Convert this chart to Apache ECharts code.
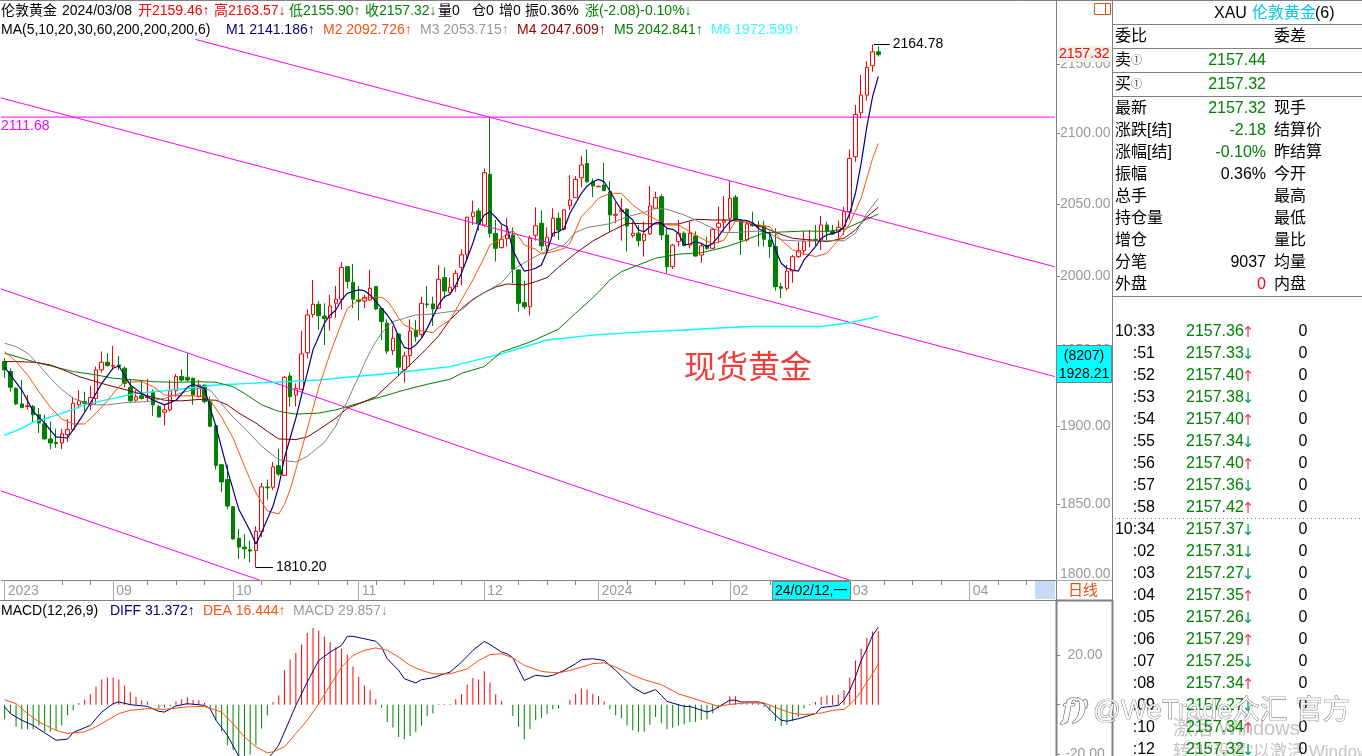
<!DOCTYPE html>
<html><head><meta charset="utf-8">
<style>html,body{margin:0;padding:0;background:#fff}#c{width:1362px;height:756px}</style>
<script src="https://cdn.jsdelivr.net/npm/echarts@6/dist/echarts.min.js"></script>
</head><body><div id="c"></div>
<script>
// [open, close, low, high], daily bars
const ohlc=[
[1942.3,1936.8,1931.3,1944.6],[1935.7,1925.3,1922.4,1937.9],[1924.6,1914.4,1913.7,1925.3],[1914.4,1912,1911.6,1930.1],[1912.7,1913.1,1910.5,1920.2],
[1912.7,1907.3,1901.9,1913.8],[1907.3,1901.9,1895.5,1911.6],[1901.5,1891.6,1891.2,1907.3],[1891.6,1889,1885.1,1903],[1889.4,1888.6,1885.9,1898.1],
[1889,1894.9,1885.1,1898.1],[1894.4,1897.6,1889.4,1904.5],[1897.6,1914.8,1896.5,1919.1],[1913.8,1916.4,1911.6,1923.5],[1915.9,1914.8,1909.5,1922.4],
[1913.8,1918.6,1910.5,1926.1],[1918,1936.8,1913.8,1939],[1936.8,1941.9,1935,1949],[1941.9,1939.7,1939,1947.9],[1939.2,1939.7,1937.2,1952.8],
[1940.1,1939,1936.8,1946.1],[1937.9,1927.9,1925.3,1939],[1925.3,1916.4,1915.9,1930.1],[1916.8,1919.1,1915.9,1923.5],[1919.7,1918,1917.3,1929.7],
[1918.6,1919.1,1915.9,1930.8],[1921.9,1913.8,1906.6,1923.9],[1912.7,1905.8,1905.8,1913.8],[1909,1910.5,1900.4,1913.8],[1910.5,1923,1909.5,1930.1],
[1923,1932.4,1919.1,1934.1],[1932.4,1930.1,1929,1937.2],[1931.9,1930.1,1929,1947.9],[1931.3,1920.2,1913.8,1931.7],[1919.1,1926.8,1918.6,1930.1],
[1926.8,1915.9,1914.8,1926.8],[1915.9,1899.8,1899.4,1919.1],[1900.2,1874.6,1871.9,1900.9],[1875,1864,1857.4,1875],[1865.5,1848.7,1846.6,1875],
[1848.3,1828,1827.6,1848.7],[1828.4,1822.9,1815.6,1834.2],[1822.9,1821.8,1815.6,1831.1],[1821.2,1820.4,1813.5,1827],[1820.8,1832.8,1810.2,1835.9],
[1832.6,1860.8,1829,1863.3],[1860.8,1860.2,1852.8,1865.5],[1860.6,1873.6,1858.7,1876.7],[1874.4,1869,1867.6,1885.3],[1868.2,1931.9,1867.6,1932.8],
[1932.8,1919.2,1912.7,1935],[1920.2,1924.6,1912.7,1927.9],[1923.9,1947.4,1923.5,1962.7],[1948.2,1973.5,1944.5,1977.4],[1973.9,1980.7,1971.7,1997.3],
[1980.7,1973,1963.4,1983],[1972.8,1971,1953.4,1981.4],[1971.7,1979.6,1963,1987.1],[1981.4,1984.2,1971.7,1993.2],[1984.2,2005.9,1977.4,2009.6],
[2006.4,1996.2,1991.6,2006.9],[1995.5,1984.2,1978.1,2008.2],[1983.7,1982.6,1969.8,1993.2],[1983,1985.5,1978.1,1987.1],[1983.7,1991.6,1983.2,2004.1],
[1992.8,1977.6,1976.9,1993.2],[1977.8,1969.1,1956.7,1978.1],[1968,1949.3,1947.4,1970.6],[1949.6,1957.8,1946.7,1966.1],[1960.7,1938.6,1933.5,1961.2],
[1936.8,1946.1,1928.4,1948.9],[1946.3,1962.7,1939,1970.6],[1963,1958.9,1955.6,1970.2],[1960.5,1981.4,1958.9,1985.9],[1981,1980.5,1978.1,1993.2],
[1981,1977.6,1966.1,1985.9],[1978.1,1997.8,1977.8,2007.5],[1998.9,1989.8,1984.8,2005.9],[1988.9,1992.3,1988.2,1998.9],[1992.8,2001.8,1989.3,2004.1],
[2005.9,2014.5,1993.6,2018.4],[2014.9,2040.6,2011,2041],[2041,2044.1,2035.2,2052.2],[2045,2035.9,2031.2,2046.9],[2035.2,2072,2034,2074.9],
[2070.8,2029.4,2026.6,2111.68],[2029.4,2019,2009.9,2038.7],[2019.5,2025.3,2019,2035.2],[2025.7,2028.3,2020.2,2039.9],[2028.3,2004.6,1995,2033.6],
[2004.1,1981.4,1975.8,2004.6],[1981.9,1979.1,1977.4,1996.6],[1979.1,2026,1973.1,2027.8],[2028,2034.7,2024.3,2047.6],[2036.4,2020.7,2017.4,2045.2],
[2020.7,2026.7,2016,2033.6],[2027.6,2039.9,2027.1,2046.9],[2039.9,2031.7,2024.8,2043.9],[2032.2,2045.7,2031.7,2046.2],[2048.7,2052.7,2045.7,2070.2],
[2054.3,2067.2,2053.9,2069.5],[2068.3,2077.4,2061.6,2084],[2078.5,2065.5,2064.8,2088.6],[2065.5,2062.5,2054.6,2067.9],[2062,2062.4,2062,2062.6],
[2063.2,2059.2,2059.2,2079],[2058.5,2042.2,2030.5,2066],[2042,2042.7,2036.4,2051.1],[2044.8,2045.7,2024.3,2053.9],[2046.2,2034.5,2016.7,2046.9],
[2027.8,2029.5,2026.3,2037.5],[2029.5,2024.3,2020.2,2035.2],[2024.3,2028.8,2013.3,2037.5],[2029,2048.5,2028.3,2062.5],[2046.9,2054.3,2046.2,2058.5],
[2055,2028.3,2024.8,2056.7],[2028.3,2006.4,2001.9,2032.9],[2006.4,2021.3,2004.8,2022],[2023.6,2029.5,2020.2,2038.7],[2029.5,2020.9,2020.2,2030.8],
[2021.3,2029.5,2019,2037.5],[2027.6,2013.7,2013.3,2030.8],[2014.4,2020.7,2009.2,2022.5],[2020.9,2019,2017.9,2027.1],[2019,2032.2,2018.6,2032.9],
[2033.6,2036.4,2022.5,2048],[2037.1,2038.2,2030.8,2055.4],[2039.9,2053.9,2030.8,2066],[2054.6,2038.7,2038.7,2056.2],[2038.7,2024.8,2014.4,2039.4],
[2024.8,2035.9,2023.6,2038.7],[2035.6,2034.7,2034,2044.5],[2034.9,2034.2,2020.2,2038.2],[2034.5,2025.3,2020.2,2038.2],[2024.8,2020.2,2012.2,2030.8],
[2020.2,1992.7,1990,2032.9],[1992.7,1991.6,1984.9,1995.4],[1991.6,2003.4,1990,2007.6],[2003.4,2013.3,1995.4,2014.4],[2013.3,2017.4,2012.2,2023.6],
[2017.4,2023.6,2014.4,2031],[2024.6,2025,2019.7,2031.7],[2025.3,2024.8,2020.7,2035.2],[2024.8,2035.2,2017.9,2041.5],[2035.2,2030.8,2024.8,2037.5],
[2030.8,2029,2028.3,2035.2],[2030.8,2033.6,2024.8,2038.2],[2034,2044.5,2028.3,2048],[2044.5,2082.1,2039.2,2088.6],[2083.3,2113.6,2079.7,2120.4],
[2114.8,2127.7,2110.8,2142.3],[2127.7,2148,2123.6,2152.6],[2149.1,2159.4,2144.8,2164.78],[2159.46,2157.32,2155.9,2163.57]
];
const slotCount=185;
const categories=Array.from({length:slotCount},(_,i)=>String(i));
// moving averages: [bar number, price]
const m1=[[0,1938.6],[3,1923.5],[5,1909.5],[7,1901.9],[9,1892.9],[11,1892.2],[13,1903],[15,1914.8],[17,1927.9],[19,1937.9],[20,1939.4],[22,1926.8],[24,1921.3],[26,1916.8],[28,1913.8],[30,1916.8],[32,1925.3],[33,1927.3],[35,1924.6],[36,1911.6],[37,1899.8],[39,1871.9],[41,1846.6],[43,1833],[44,1824.8],[45,1832.1],[47,1848.7],[48,1861.2],[49,1879.3],[50,1892.2],[51,1905.1],[52,1920.2],[53,1934.6],[54,1950.1],[55,1958.9],[56,1968],[57,1973.5],[58,1976.9],[59,1983.7],[60,1988.2],[61,1989.4],[62,1990.5],[63,1990],[64,1987.1],[65,1982.6],[66,1978.1],[67,1973.5],[68,1968],[69,1958.9],[70,1951.8],[71,1950.7],[72,1953.4],[73,1957.8],[74,1964.5],[75,1972.4],[76,1980.3],[77,1985.9],[78,1987.5],[79,1993.9],[80,2001.8],[81,2012],[82,2022.5],[83,2035.2],[84,2042.2],[85,2044.5],[86,2040.6],[87,2035.9],[88,2034],[89,2017.9],[90,2009.9],[91,2003.4],[92,2004.1],[93,2005.3],[94,2007.6],[95,2016.7],[96,2029.4],[97,2030.5],[98,2032.9],[99,2043.4],[100,2050.4],[101,2057.4],[102,2062.5],[103,2065.5],[104,2067.2],[105,2065.5],[106,2059],[107,2052],[108,2045.7],[109,2042.2],[110,2038.7],[111,2031.7],[112,2030.5],[113,2034],[114,2036.8],[115,2036.8],[116,2032.9],[117,2032.2],[118,2029.4],[119,2021.4],[120,2022],[121,2023.6],[122,2022.5],[123,2020.2],[124,2022.5],[125,2027.1],[126,2032.9],[127,2037.5],[128,2039.4],[129,2038.7],[130,2038.2],[131,2036.8],[132,2032.9],[133,2030.5],[134,2029.4],[135,2017.9],[136,2008.7],[137,2005.3],[138,2004.1],[139,2003.4],[140,2011],[141,2015.6],[142,2020.2],[143,2026],[144,2028.3],[145,2029.4],[146,2030.5],[147,2034],[148,2043.4],[149,2057.4],[150,2078.5],[151,2104.8],[152,2126.5],[153,2141.19]];
const m2=[[0,1949],[2,1942.3],[4,1933.5],[6,1922.4],[8,1912.3],[10,1904.5],[12,1901.3],[14,1901.3],[16,1908.4],[18,1916.4],[20,1925.7],[21,1928.6],[24,1929],[26,1925.7],[28,1920.2],[30,1919.7],[33,1919.7],[35,1919.1],[36,1916.8],[38,1905.8],[40,1892.2],[42,1874],[44,1857],[46,1845.6],[48,1843.7],[49,1849.7],[50,1859.1],[52,1884.7],[54,1911.6],[55,1925],[57,1947.8],[59,1968],[60,1977.8],[62,1983.7],[64,1985.5],[66,1985.5],[67,1983],[68,1977.8],[69,1971.3],[70,1966.7],[72,1963.4],[74,1962.3],[75,1961.6],[76,1965.2],[78,1970.2],[80,1983.7],[82,1997.3],[84,2012.8],[85,2021.4],[87,2026],[88,2029.4],[89,2031.2],[90,2027.1],[91,2021.4],[93,2018.4],[94,2015.2],[96,2016.7],[98,2019],[99,2022.5],[101,2041],[103,2049.2],[104,2053.9],[106,2057.4],[108,2057.4],[110,2049.2],[112,2043.4],[114,2039.2],[116,2035.2],[118,2035.2],[120,2030.5],[122,2026],[124,2022],[126,2024.8],[128,2038.2],[130,2036.8],[132,2035.2],[134,2034],[136,2024.8],[138,2017.9],[140,2015.2],[142,2013.3],[144,2015.6],[146,2024.8],[148,2036.1],[150,2054],[151,2068],[152,2082],[153,2092.73]];
const m3=[[0,1954.5],[2,1952.3],[4,1947.9],[6,1940.1],[8,1931.3],[10,1923.9],[12,1918],[14,1915.2],[16,1913.8],[18,1913.8],[21,1915.2],[25,1915.9],[28,1918],[31,1921.7],[34,1924.6],[36,1923.5],[38,1914.4],[40,1905.8],[42,1898.7],[45,1886.9],[48,1878.2],[51,1876.7],[53,1880.4],[56,1889.4],[58,1900],[60,1915.9],[61,1924.4],[62,1932.3],[63,1941],[64,1948.9],[65,1955.6],[66,1961.2],[67,1965.6],[68,1969.1],[70,1971.3],[72,1973.5],[75,1974.2],[78,1975.8],[80,1976.9],[82,1983.7],[84,1988.7],[87,1995.4],[89,2004.1],[91,2009.1],[94,2015.6],[98,2021.4],[100,2030],[102,2033.4],[106,2036.1],[109,2040.9],[112,2044.1],[114,2046.9],[116,2046.2],[119,2042.2],[121,2038.7],[124,2032.9],[126,2030],[128,2030],[132,2031],[134,2029.4],[136,2024.8],[139,2024.1],[142,2024.1],[144,2024.3],[147,2024.3],[149,2029.4],[151,2043.4],[153,2053.72]];
const m4=[[0,1942.3],[2,1942.3],[5,1941.9],[8,1940.1],[11,1935.7],[13,1932.4],[16,1929],[18,1926.8],[21,1923.9],[25,1919.7],[28,1916.8],[31,1916.4],[34,1917.3],[37,1916.8],[39,1913.8],[41,1908.4],[44,1901.9],[46,1896.5],[48,1891.6],[51,1891.2],[53,1892.9],[55,1897.6],[58,1905.1],[60,1911.6],[62,1914.4],[65,1919.1],[68,1929.7],[71,1940.1],[74,1951.2],[76,1959.5],[78,1970.2],[80,1977.8],[82,1984.2],[84,1988.7],[86,1992.5],[88,1994.6],[91,1993.9],[93,1996.1],[95,1998.9],[97,2006],[100,2015.6],[103,2024.1],[106,2030.5],[109,2036.4],[112,2036.1],[115,2035.9],[118,2035.9],[121,2039.2],[124,2038.7],[127,2038.7],[130,2036.8],[133,2033.4],[135,2030],[138,2026],[141,2024.8],[144,2023.6],[147,2026],[149,2031.7],[151,2040.9],[153,2047.61]];
const m5=[[0,1947.9],[3,1944.6],[5,1942.3],[9,1938.6],[12,1935.7],[16,1933.5],[19,1931.3],[23,1930.1],[26,1929],[30,1928.6],[34,1929],[37,1928.6],[40,1925.7],[42,1921.3],[45,1913.8],[48,1909.5],[51,1907.7],[55,1908.4],[58,1910.5],[62,1914.8],[66,1919.1],[70,1923.5],[74,1927.3],[78,1930.6],[80,1934.5],[84,1939],[87,1948.7],[92,1955.3],[97,1964],[100,1974.7],[102,1981.6],[104,1989],[106,1997.3],[108,2002.9],[111,2007.6],[114,2012.2],[118,2015],[122,2016],[126,2019.7],[129,2023.6],[133,2029.8],[136,2030.3],[140,2031],[144,2030.8],[147,2032.2],[150,2037.5],[153,2042.84]];
const m6=[[0,1894],[3,1898.5],[5,1902.5],[8,1905.8],[11,1909.5],[14,1913.8],[17,1916.4],[23,1921.3],[28,1923],[34,1925.3],[37,1926.8],[43,1927.9],[49,1929],[55,1930.1],[60,1931.9],[66,1933.9],[72,1936.4],[78,1939],[87,1947.4],[95,1956.7],[103,1960],[111,1962],[119,1963.4],[125,1964.7],[131,1965.8],[137,1965.8],[143,1965.8],[148,1968.3],[153,1972.6]];
// channel lines: [bar number, price] end points
const keyLevel=2111.68;
const hLine=[[-0.82,keyLevel],[183.9,keyLevel]];
const t1=[[33.4,2168.6],[183.9,2006.3]];
const t2=[[-0.82,2125.8],[183.9,1932.4]];
const t3=[[-0.82,1991.4],[147.9,1802.5]];
const t4=[[-0.82,1858.5],[44.6,1802.5]];
const highMark=[[152.2,2164.78],[155,2164.78]];
const lowMark=[[44,1810.2],[47,1810.2]];
// MACD panel
const hist=[-5.9,-3.6,-9,-10,-10,-10.1,-8.4,-11,-11,-10.4,-8.4,-4.3,-2.3,0.7,2,4.2,7.4,10.2,11,11,10.2,7.8,5,3.1,1.8,1.3,0,-1.6,-1.3,-0.7,1.3,2.2,3,1.9,1.8,0.7,-1.6,-6.3,-10.8,-16.4,-18.5,-20.9,-20.9,-20.2,-16.4,-9.7,-4.3,1.1,3.8,13.9,18.3,20.9,24.4,29,31.1,30,27.6,25.3,23.3,22.6,20.3,15.5,11.2,7.8,5.8,2.2,-1.3,-7,-9.3,-13.1,-14,-12.7,-11,-8.4,-4.7,-3.6,0.3,0.3,0.3,2.2,4.2,8.2,10.8,10.2,13.5,9,4.2,1.5,0,-4.6,-9,-14,-10,-6.3,-5.3,-3.9,-1.9,-1.6,0,1.8,4.4,6.5,6.1,4.4,3.4,1.3,-1.9,-4.3,-5.5,-8.4,-10.4,-11,-11,-8.1,-5,-7.4,-10,-9.4,-8.4,-7.9,-7,-7,-6.1,-5.9,-3.6,-1.6,0,3.4,3.4,0.7,0.7,0.7,0.7,-0.9,-2,-6.6,-8.6,-8.1,-6.6,-5,-1.6,0.3,1.1,3.1,3.8,3.8,4,5.8,11,17.9,22.6,27.1,29.6,29.857];
const diff=[[0,-0.9],[1,-3.6],[3,-6.3],[5,-8.4],[7,-11.4],[9,-14.4],[11,-14],[12,-11.3],[15,-8.4],[17,-3],[19,0.4],[20,1.1],[22,0],[25,-0.7],[27,-2.7],[28,-3],[30,-0.5],[32,0.4],[35,-0.3],[36,-1.6],[37,-6.3],[39,-12.4],[41,-20.9],[43,-26.5],[45,-25.2],[46,-21.8],[47,-19.5],[48,-16.4],[50,-5.7],[51,-0.3],[53,9.2],[55,17.9],[57,21.3],[59,24],[60,27.7],[61,27.7],[63,26.7],[65,25.7],[66,23.3],[67,18.6],[69,13.9],[70,10.5],[72,8.8],[73,10.1],[75,10.9],[77,12.5],[78,13.2],[80,17.2],[82,22],[84,25.6],[85,24.4],[87,21.3],[88,20.6],[89,19],[91,9.8],[93,11.9],[95,11.4],[96,11.9],[98,13.9],[100,16.6],[101,18.2],[103,18.6],[105,17.9],[107,13.9],[110,7.1],[112,4.4],[114,6.1],[115,3.8],[116,1.3],[119,-0.7],[120,-0.7],[123,-3],[124,-2.3],[127,1.8],[128,1.8],[129,1.1],[132,1.1],[133,0.4],[135,-4.3],[136,-6.3],[137,-6.7],[139,-5.7],[142,-3.6],[143,-1.2],[146,-0.3],[147,1.8],[148,5.8],[149,11.2],[150,17.9],[151,22.6],[152,28],[153,31.37]];
const dea=[[0,2],[2,0.4],[4,-3.6],[6,-7],[9,-10.4],[11,-11.7],[14,-11],[16,-9],[20,-3.6],[22,-2.3],[25,-1.6],[28,-1.9],[32,-0.9],[35,-0.7],[38,-3],[40,-7.7],[42,-13.1],[44,-17.1],[46,-19.5],[47,-19.1],[49,-17.1],[51,-11.7],[53,-6.3],[55,0.4],[57,7.8],[59,15.2],[61,19.9],[63,22],[65,23],[67,22],[69,19.3],[71,15.9],[73,13.9],[75,12.5],[78,12.5],[81,14.5],[83,17.9],[85,20.3],[87,20.6],[89,19],[91,15.9],[94,13.5],[95,13.2],[97,12.9],[99,13.9],[101,15.2],[103,16.6],[105,17],[107,15.2],[110,11.9],[112,10.1],[115,8.1],[118,4.4],[122,1.5],[125,-0.7],[127,0.1],[130,0.7],[133,0.7],[135,-1.2],[138,-3.6],[140,-4],[143,-3.4],[145,-2.3],[147,-1.9],[148,0],[149,2.4],[150,5.4],[151,9.2],[152,12.5],[153,16.44]];
// tick labels
const priceTicks=[1850,1900,1950,2000,2050,2100,2150];
const macdTicks=[-20,0,20];
const monthTicks=[0,19,40,62,84,104,127,148,169];
const monthLabels=['2023','09','10','11','12','2024','02','03','04'];
const weekTicks=[10,15,25,30,35,45,50,55,60,65,70,75,80,90,95,100,109,114,119,124,134,154,159,164,174,179];
// quote panel text
const quoteRows=[['最新','2157.32','现手','#008000'],['涨跌[结]','-2.18','结算价','#008000'],['涨幅[结]','-0.10%','昨结算','#008000'],['振幅','0.36%','今开','#000'],['总手','','最高','#000'],['持仓量','','最低','#000'],['增仓','','量比','#000'],['分笔','9037','均量','#000'],['外盘','0','内盘','#ff0000']];
const tickTimes=['10:33',':51',':52',':53',':54',':55',':56',':57',':58','10:34',':02',':03',':04',':05',':06',':07',':08',':09',':10',':12'];
const tickPrices=['2157.36','2157.33','2157.40','2157.38','2157.40','2157.34','2157.40','2157.36','2157.42','2157.37','2157.31','2157.27','2157.35','2157.26','2157.29','2157.25','2157.34','2157.27','2157.34','2157.32'];
const tickDirs=['↑','↓','↑','↓','↑','↓','↑','↓','↑','↓','↓','↓','↑','↓','↑','↓','↑','↓','↑','↓'];
const tickVols=Array(20).fill('0');
const headerSegments=[['伦敦黄金',1,'#000'],['2024/03/08',62,'#000'],['开2159.46↑',138,'#ff0000'],['高2163.57↓',214,'#ff0000'],['低2155.90↑',289,'#008000'],['收2157.32↓',365,'#008000'],['量0',438,'#000'],['仓0',472,'#000'],['增0',499,'#000'],['振0.36%',525,'#000'],['涨(-2.08)-0.10%↓',585,'#008000']];
const maLegend=[['MA(5,10,20,30,60,200,200,200,6)',1,'#000'],['M1 2141.186↑',226,'#000080'],['M2 2092.726↑',323,'#ff5010'],['M3 2053.715↑',420,'#999999'],['M4 2047.609↑',517,'#900000'],['M5 2042.841↑',614,'#008000'],['M6 1972.599↑',711,'#33ffff']];
const macdLegend=[['MACD(12,26,9)',1,'#000'],['DIFF 31.372↑',110,'#000080'],['DEA 16.444↑',203,'#ff5010'],['MACD 29.857↓',293,'#999999']];

const FONT='"Liberation Sans","Noto Sans CJK SC",sans-serif';
const GRAY='#808080', LABEL='#999999', MAG='#ff00ff';
const g=[];
function txt(text,x,y,fill,size,align,extra){g.push({type:'text',z:50,silent:true,x:x,y:y+2,style:Object.assign({text:text,fill:fill,font:(size||14)+'px '+FONT,textAlign:align||'left',textVerticalAlign:'middle'},extra||{})});}
function ln(x1,y1,x2,y2,c,w,dash){g.push({type:'line',z:40,silent:true,shape:{x1,y1,x2,y2},style:{stroke:c,lineWidth:w||1,lineDash:dash}});}
function rc(x,y,w,h,fill,stroke){g.push({type:'rect',z:41,silent:true,shape:{x,y,width:w,height:h},style:{fill:fill,stroke:stroke||null,lineWidth:1}});}

// frame
ln(0,0.5,1362,0.5,GRAY);
ln(0,600.5,1056,600.5,GRAY);
ln(1056.5,0,1056.5,600,GRAY);
ln(1056.5,600,1056.5,756,GRAY,2);
ln(1112.5,0,1112.5,600,GRAY);
ln(1112.5,600,1112.5,756,GRAY,2);
ln(1056,600.5,1113,600.5,GRAY,2);
ln(1056,580.5,1112,580.5,'#aaa');
[24.5,48.5,72.5,96.5,296.5].forEach(y=>ln(1112,y,1362,y,GRAY));
ln(1115,518.5,1362,518.5,GRAY,1,[1,3]);
// header lines
headerSegments.forEach(s=>txt(s[0],s[1],9.5,s[2]));
maLegend.forEach(s=>txt(s[0],s[1],28.5,s[2]));
macdLegend.forEach(s=>txt(s[0],s[1],609.5,s[2]));
txt(String(keyLevel),1,124.5,MAG);
txt('1800.00',1060,572,LABEL);
// axis row widgets
rc(1035,581,20,18,'#c5daf5');
rc(772.5,581.5,78,18,'#00ffff',GRAY);
txt('24/02/12,一',775,589,'#000');
txt('日线',1068,588.5,'#e0500f',15);
// price boxes
rc(1094.5,3.5,16,11,'none','#e0500f');ln(1105.5,3,1105.5,15,'#e0500f');
rc(1058,46,53,16,'#eef3e8');
txt('2157.32',1059,52.5,'#ff0000');
rc(1056.5,345.5,55,37,'#00ffff',GRAY);
txt('(8207)',1084,354,'#000',14,'center');
txt('1928.21',1084,372,'#000',14,'center');
// chart note
txt('现货黄金',684,367,'#f23c3c',32);
// quote panel
txt('XAU',1214,11.5,'#000',16);txt('伦敦黄金',1252,11.5,'#00c8e8',16);txt('(6)',1315,11.5,'#000',16);
txt('委比',1115,35,'#000',16);txt('委差',1274,35,'#000',16);
txt('卖',1115,59,'#000',16);txt('①',1131,59,'#445',11);txt('2157.44',1266,59,'#008000',16,'right');
txt('买',1115,83,'#000',16);txt('①',1131,83,'#445',11);txt('2157.32',1266,83,'#008000',16,'right');
quoteRows.forEach((r,i)=>{const y=107+22*i;txt(r[0],1115,y,'#000',16);if(r[1])txt(r[1],1266,y,r[3],16,'right');txt(r[2],1274,y,'#000',16);});
// windows text behind the list
txt('激活 Windows',1173,727,'#c4c4c4',20);
txt('转到"设置"以激活 Windows',1173,750,'#c4c4c4',17);
tickTimes.forEach((t,i)=>{const y=330+22*i;txt(t,1155,y,'#000',16,'right');txt(tickPrices[i],1186,y,'#008000',16);
 txt(tickDirs[i],1248,y+1,tickDirs[i]==='↑'?'#ff3355':'#00a060',15,'center',{font:'15px "DejaVu Sans"'});txt(tickVols[i],1303,y,'#000',16,'center');});
// watermark
g.push({type:'text',z:60,silent:true,x:1062,y:712,style:{text:'f)',fill:'#fff',stroke:'#333',lineWidth:1,font:'italic bold 28px "DejaVu Serif",serif',textVerticalAlign:'middle'}});
g.push({type:'text',z:60,silent:true,x:1093,y:711,style:{text:'@WeTrade众汇 官方',fill:'rgba(255,255,255,.85)',stroke:'#555',lineWidth:0.7,font:'27.5px '+FONT,textVerticalAlign:'middle'}});

function lineS(data,color,xi,yi,w,extra){return Object.assign({type:'line',data:data,xAxisIndex:xi,yAxisIndex:yi,symbol:'none',smooth:false,silent:true,z:5,animation:false,lineStyle:{color:color,width:w||1}},extra||{});}
const endL=(s)=>({show:true,formatter:s,color:'#000',fontSize:14,fontFamily:FONT,distance:3});

const option={animation:false,backgroundColor:'#fff',
 grid:[{left:1.8,top:0,width:1056.35,height:580,containLabel:false,outerBoundsMode:'none'},{left:1.8,top:600,width:1056.35,height:156,containLabel:false,outerBoundsMode:'none'}],
 xAxis:[
  {type:'category',gridIndex:0,position:'bottom',data:categories,boundaryGap:true,axisLine:{lineStyle:{color:GRAY},onZero:false},axisLabel:{show:false},splitLine:{show:false},
   axisTick:{show:true,alignWithLabel:true,length:5,interval:(i)=>weekTicks.includes(i),lineStyle:{color:GRAY}}},
  {type:'value',gridIndex:0,position:'bottom',min:-0.5,max:slotCount-0.5,splitLine:{show:false},axisLine:{show:false,onZero:false},
   axisTick:{show:true,length:20,customValues:monthTicks,lineStyle:{color:'#aaa'}},
   axisLabel:{show:true,customValues:monthTicks,formatter:(v)=>monthLabels[monthTicks.indexOf(Math.round(v))],color:LABEL,fontSize:14,fontFamily:FONT,align:'left',margin:4,padding:[0,0,0,3],hideOverlap:false,showMinLabel:true,showMaxLabel:true}},
  {type:'value',gridIndex:1,position:'bottom',min:-0.5,max:slotCount-0.5,show:false,axisLine:{onZero:false}}
 ],
 yAxis:[
  {type:'log',gridIndex:0,min:1802.5,max:2198,position:'right',offset:-2.15,splitLine:{show:false},axisLine:{show:false,onZero:false},
   axisTick:{show:true,length:4,customValues:priceTicks,lineStyle:{color:GRAY}},
   axisLabel:{show:true,customValues:priceTicks,formatter:(v)=>Number(v).toFixed(2),color:LABEL,fontSize:14,fontFamily:FONT,margin:4,padding:[2,0,0,0],showMinLabel:true,showMaxLabel:true}},
  {type:'value',gridIndex:1,min:-20.8,max:42.4,position:'right',offset:-2.15,splitLine:{show:false},axisLine:{show:false,onZero:false},
   axisTick:{show:true,length:4,customValues:macdTicks,lineStyle:{color:GRAY}},
   axisLabel:{show:true,customValues:macdTicks,formatter:(v)=>v===0?'0':Number(v).toFixed(2),color:LABEL,fontSize:14,fontFamily:FONT,margin:29,align:'center',padding:[2,0,0,0],showMinLabel:true,showMaxLabel:true}}
 ],
 series:[
  {type:'candlestick',xAxisIndex:0,yAxisIndex:0,data:ohlc,barWidth:4,silent:true,z:2,progressive:0,animation:false,
   itemStyle:{color:'#ffffff',color0:'#008000',borderColor:'#ff0000',borderColor0:'#008000',borderWidth:1}},
  lineS(t1,MAG,1,0,1),lineS(t2,MAG,1,0,1),lineS(t3,MAG,1,0,1),lineS(t4,MAG,1,0,1),lineS(hLine,MAG,1,0,1),
  lineS(m6,'#00ffff',1,0,1.4),lineS(m5,'#008000',1,0,1),lineS(m4,'#800000',1,0,1),lineS(m3,'#808080',1,0,1),lineS(m2,'#ff5010',1,0,1),lineS(m1,'#000080',1,0,1.2),
  lineS(highMark,'#000',1,0,1,{endLabel:endL('2164.78')}),
  lineS(lowMark,'#000',1,0,1,{endLabel:endL('1810.20')}),
  {type:'bar',xAxisIndex:2,yAxisIndex:1,data:hist.map((v,i)=>[i,v]),barWidth:1,silent:true,animation:false,
   itemStyle:{color:(p)=>p.value[1]>=0?'#ff0000':'#008000'}},
  lineS(diff,'#000080',2,1,1),lineS(dea,'#ff5010',2,1,1)
 ],
 graphic:{elements:g}
};
const chart=echarts.init(document.getElementById('c'),null,{renderer:'canvas',width:1362,height:756});
chart.setOption(option);
</script></body></html>
